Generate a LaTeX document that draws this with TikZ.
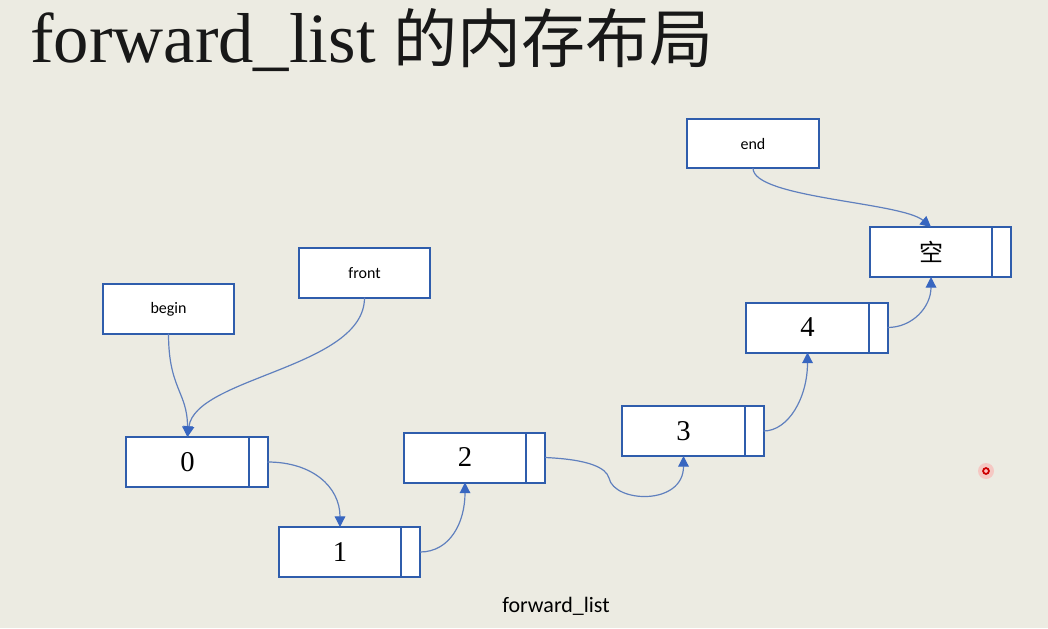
\documentclass[tikz,border=0pt]{standalone}
\usepackage{fontspec}
\setmainfont{Liberation Serif}
\newfontfamily\cjk{Noto Sans CJK SC}
\newfontfamily\calibri{Carlito}
\usetikzlibrary{arrows.meta,positioning}

\definecolor{sfondo}{RGB}{236,235,226}
\definecolor{bordo}{RGB}{47,93,172}
\definecolor{freccia}{RGB}{96,128,190}
\definecolor{punta}{RGB}{56,102,192}
\definecolor{titolo}{RGB}{24,24,24}

\begin{document}
\begin{tikzpicture}[x=0.75pt, y=-0.75pt,
    dato/.style={draw=bordo, fill=white, line width=1.5pt, outer sep=0pt, inner sep=0pt,
        minimum width=92pt, minimum height=37.5pt, font=\fontsize{21.5}{24}\selectfont},
    ptr/.style={draw=bordo, fill=white, line width=1.5pt, outer sep=0pt, inner sep=0pt,
        minimum width=14pt, minimum height=37.5pt},
    iter/.style={draw=bordo, fill=white, line width=1.5pt, outer sep=0pt,
        minimum width=98.5pt, minimum height=37pt, font=\calibri\fontsize{12}{14}\selectfont},
    link/.style={draw=freccia, line width=0.9pt, -{Triangle[length=8pt, width=8pt, color=punta]}}]

%% === SFONDO E TITOLO ===
\fill[sfondo] (0,0) rectangle (1048,628);
\useasboundingbox (0,0) rectangle (1048,628);

\node[anchor=base west, inner sep=0pt, text=titolo] (titolo) at (30,62)
    {\fontsize{53}{60}\selectfont forward\_list {\cjk\fontsize{48}{56}\selectfont 的内存布局}};

%% === NODI DELLA LISTA: dato + puntatore next ===
\foreach \i/\x/\y/\v in {0/187.5/462/0, 1/340/552/1, 2/465/457.5/2,
                          3/683.5/431/3, 4/807.5/327.5/4,
                          5/931/252/{\cjk\fontsize{18}{20}\selectfont 空}} {
    \node[dato] (n\i) at (\x,\y) {\v};
    \node[ptr, right=0pt of n\i] (p\i) {};
}

%% Iteratori
\node[iter] (begin) at (168.5,309)   {begin};
\node[iter] (front) at (364.5,273)   {front};
\node[iter] (end)   at (753,143.5)   {end};

%% === COLLEGAMENTI ===
\draw[link] (begin.south) .. controls +(0,55) and +(0,-45) .. (n0.north);
\draw[link] (front.south) .. controls +(0,70) and +(8,-60) .. (n0.north);
\draw[link] (p0.east) .. controls +(45,0) and +(0,-40) .. (n1.north);
\draw[link] (p1.east) .. controls +(30,0) and +(0,40) .. (n2.south);
\draw[link] (p2.east) .. controls +(45,2) and +(-3,-10) .. (609,478)
                      .. controls +(5,25) and +(0,50) .. (n3.south);
\draw[link] (p3.east) .. controls +(25,0) and +(0,45) .. (n4.south);
\draw[link] (p4.east) .. controls +(25,0) and +(0,30) .. (n5.south);
\draw[link] (end.south) .. controls +(0,30) and +(-30,-25) .. (n5.north);

\node[font=\calibri\fontsize{16.5}{20}\selectfont] (didascalia) at (556,606) {forward\_list};

%% Puntatore laser
\fill[red!35, opacity=0.5] (986,471) circle[radius=6pt];
\draw[red!80!black, line width=1.3pt, fill=pink] (986,471) circle[radius=2.2pt];

\end{tikzpicture}
\end{document}
